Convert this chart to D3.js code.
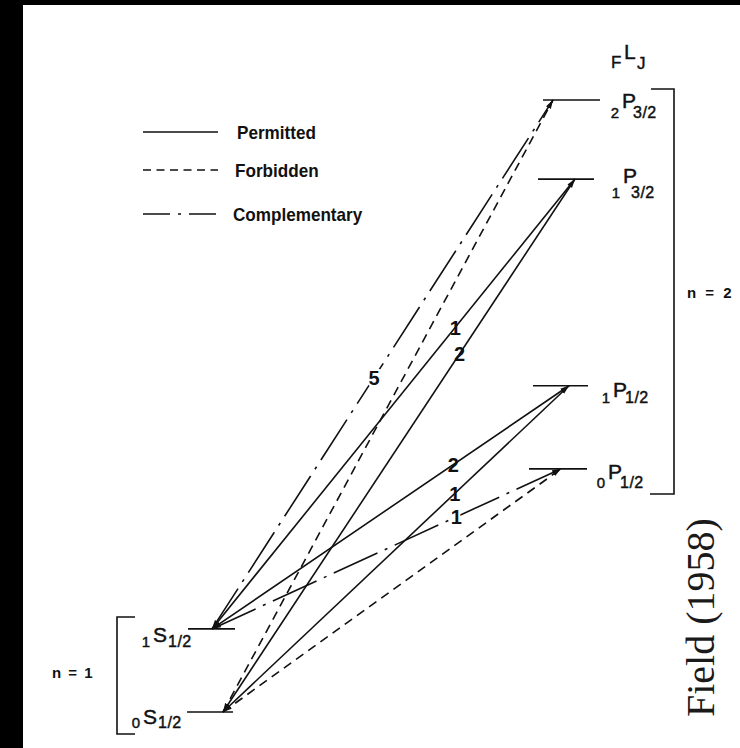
<!DOCTYPE html>
<html>
<head>
<meta charset="utf-8">
<script src="https://cdn.jsdelivr.net/npm/d3@7/dist/d3.min.js"></script>
<style>
  html, body { margin: 0; padding: 0; background: #fff; }
  svg { display: block; }
  .lbl { font-family: "Liberation Sans", Arial, sans-serif; fill: #111; }
  .lett { font-family: "Liberation Sans", Arial, sans-serif; fill: #111; }
</style>
</head>
<body>
<svg id="chart" width="740" height="748"></svg>
<script>
// Hyperfine levels of hydrogen, n = 1 and n = 2 (schematic energy scale)
const levelIds    = ["0S1/2", "1S1/2", "0P1/2", "1P1/2", "1P3/2", "2P3/2"];
const levelF      = ["0", "1", "0", "1", "1", "2"];
const levelL      = ["S", "S", "P", "P", "P", "P"];
const levelJ      = ["1/2", "1/2", "1/2", "1/2", "3/2", "3/2"];
const levelEnergy = [0, 2.05, 6.0, 8.05, 13.15, 15.1];

// Transitions between the two shells
const transFrom  = ["1S1/2", "1S1/2", "1S1/2", "1S1/2", "0S1/2", "0S1/2", "0S1/2", "0S1/2"];
const transTo    = ["2P3/2", "1P3/2", "1P1/2", "0P1/2", "2P3/2", "1P3/2", "1P1/2", "0P1/2"];
const transType  = ["Complementary", "Permitted", "Permitted", "Complementary",
                    "Forbidden", "Permitted", "Permitted", "Forbidden"];
const transLabel = ["5", "1", "2", "1", "", "2", "1", ""];

const legendTypes = ["Permitted", "Forbidden", "Complementary"];
const shellLabels = ["n = 1", "n = 2"];
const headerParts = ["F", "L", "J"];
const citation    = "Field (1958)";

// ---- layout ----
const W = 740, H = 748;
const svg = d3.select("#chart");

const y = d3.scaleLinear().domain([0, 15.1]).range([712, 100]);

// where each level line sits horizontally and where its label goes
const levelLayout = {
  "0S1/2": { x1: 187, x2: 233, end: 223, lx: 143, ldy: 12, sdy: 16, fx: 15 },
  "1S1/2": { x1: 188, x2: 235, end: 212, lx: 153, ldy: 13, sdy: 18, fx: 15 },
  "0P1/2": { x1: 529, x2: 587, end: 561, lx: 608, ldy: 10, sdy: 19, fx: 12 },
  "1P1/2": { x1: 533, x2: 588, end: 569, lx: 613, ldy: 11, sdy: 17, fx: 12 },
  "1P3/2": { x1: 538, x2: 594, end: 575, lx: 623, ldy: 4,  sdy: 19, fx: 8 },
  "2P3/2": { x1: 543, x2: 600, end: 553, lx: 622, ldy: 8,  sdy: 18, fx: 11 }
};
// fraction along each transition where its intensity number sits
const labelAt = [0.475, 0.67, 0.676, 0.70, 0, 0.672, 0.67, 0];

const dashFor = {
  Permitted: null,
  Forbidden: "9,6",
  Complementary: "48,8,3,8"
};
const legendDash = {
  Permitted: null,
  Forbidden: "8,5.5",
  Complementary: "27,8,3,8"
};

// condensed lettering: squeeze a text element horizontally
function condense(sel, k) {
  sel.each(function () {
    const n = this.getComputedTextLength();
    d3.select(this).attr("textLength", n * k).attr("lengthAdjust", "spacingAndGlyphs");
  });
}

// scan border
svg.append("rect").attr("x", 0).attr("y", 0).attr("width", W).attr("height", 5).attr("fill", "#000");
svg.append("rect").attr("x", 0).attr("y", 0).attr("width", 23).attr("height", H).attr("fill", "#000");

// arrowhead
svg.append("defs").append("marker")
  .attr("id", "arr")
  .attr("viewBox", "0 -3 9 6")
  .attr("refX", 9).attr("refY", 0)
  .attr("markerWidth", 9).attr("markerHeight", 6)
  .attr("markerUnits", "userSpaceOnUse")
  .attr("orient", "auto-start-reverse")
  .append("path").attr("d", "M0,-2.4L9,0L0,2.4Z").attr("fill", "#111");

const levels = levelIds.map((id, i) => ({
  id, F: levelF[i], L: levelL[i], J: levelJ[i], e: levelEnergy[i], ...levelLayout[id]
}));
const byId = Object.fromEntries(levels.map(d => [d.id, d]));

// level lines
svg.append("g").selectAll("line").data(levels).join("line")
  .attr("x1", d => d.x1).attr("x2", d => d.x2)
  .attr("y1", d => y(d.e)).attr("y2", d => y(d.e))
  .attr("stroke", "#111").attr("stroke-width", 1.7);

// level labels  F L J
const lab = svg.append("g")
  .attr("stroke", "#111").attr("stroke-width", 0.45)
  .selectAll("g").data(levels).join("g");
lab.append("text").attr("class", "lbl")
  .attr("x", d => d.lx - 3).attr("y", d => y(d.e) + d.sdy)
  .attr("text-anchor", "end").attr("font-size", 15)
  .text(d => d.F);
lab.append("text").attr("class", "lbl")
  .attr("x", d => d.lx).attr("y", d => y(d.e) + d.ldy)
  .attr("font-size", 21)
  .text(d => d.L);
lab.append("text").attr("class", "lbl")
  .attr("x", d => d.lx + d.fx).attr("y", d => y(d.e) + d.sdy)
  .attr("font-size", 16).attr("letter-spacing", 0.5)
  .text(d => d.J);

// transitions
const trans = transFrom.map((f, i) => {
  const a = byId[f], b = byId[transTo[i]];
  return {
    x1: a.end, y1: y(a.e), x2: b.end, y2: y(b.e),
    type: transType[i], label: transLabel[i], t: labelAt[i]
  };
});

svg.append("g").selectAll("line").data(trans).join("line")
  .attr("x1", d => d.x1).attr("y1", d => d.y1)
  .attr("x2", d => d.x2).attr("y2", d => d.y2)
  .attr("stroke", "#111").attr("stroke-width", 1.6)
  .attr("stroke-dasharray", d => dashFor[d.type])
  .attr("marker-start", "url(#arr)")
  .attr("marker-end", "url(#arr)");

// intensity numbers along the lines
svg.append("g").selectAll("text").data(trans.filter(d => d.label)).join("text")
  .attr("class", "lbl")
  .attr("x", d => d.x1 + (d.x2 - d.x1) * d.t)
  .attr("y", d => d.y1 + (d.y2 - d.y1) * d.t)
  .attr("dy", "0.36em")
  .attr("text-anchor", "middle")
  .attr("font-size", 20).attr("font-weight", "bold")
  .attr("stroke", d => d.type === "Complementary" ? "#fff" : null)
  .attr("stroke-width", 4).attr("paint-order", "stroke")
  .text(d => d.label);

// legend
const legY = [132, 170, 214];
const leg = svg.append("g").selectAll("g").data(legendTypes).join("g")
  .attr("transform", (d, i) => `translate(0,${legY[i]})`);
leg.append("line")
  .attr("x1", 143).attr("x2", 218)
  .attr("stroke", "#111").attr("stroke-width", 1.7)
  .attr("stroke-dasharray", d => legendDash[d]);
leg.append("text").attr("class", "lett")
  .attr("x", (d, i) => [237, 235, 233][i]).attr("y", 7)
  .attr("font-size", 19).attr("font-weight", "bold")
  .text(d => d)
  .call(condense, 0.9);

// shell brackets
svg.append("path").attr("d", "M135,617H117V734H135")
  .attr("fill", "none").attr("stroke", "#111").attr("stroke-width", 1.6);
svg.append("path").attr("d", "M651,89H674V494H650")
  .attr("fill", "none").attr("stroke", "#111").attr("stroke-width", 1.6);

svg.append("text").attr("class", "lett")
  .attr("x", 52).attr("y", 678).attr("font-size", 15).attr("font-weight", "bold")
  .attr("word-spacing", 3)
  .text(shellLabels[0]);
svg.append("text").attr("class", "lett")
  .attr("x", 687).attr("y", 298).attr("font-size", 15).attr("font-weight", "bold")
  .attr("word-spacing", 5)
  .text(shellLabels[1]);

// column header  F L J
const hdr = [
  { t: headerParts[0], x: 611, y: 68, s: 17 },
  { t: headerParts[1], x: 624, y: 59, s: 21 },
  { t: headerParts[2], x: 637, y: 69, s: 17 }
];
svg.append("g").attr("stroke", "#111").attr("stroke-width", 0.4)
  .selectAll("text").data(hdr).join("text")
  .attr("class", "lbl")
  .attr("x", d => d.x).attr("y", d => d.y).attr("font-size", d => d.s)
  .text(d => d.t);

// citation
svg.append("text")
  .attr("transform", "translate(714,717) rotate(-90)")
  .attr("font-family", "'Liberation Serif', 'DejaVu Serif', serif")
  .attr("font-size", 40).attr("fill", "#1a1a1a")
  .text(citation);
</script>
</body>
</html>
